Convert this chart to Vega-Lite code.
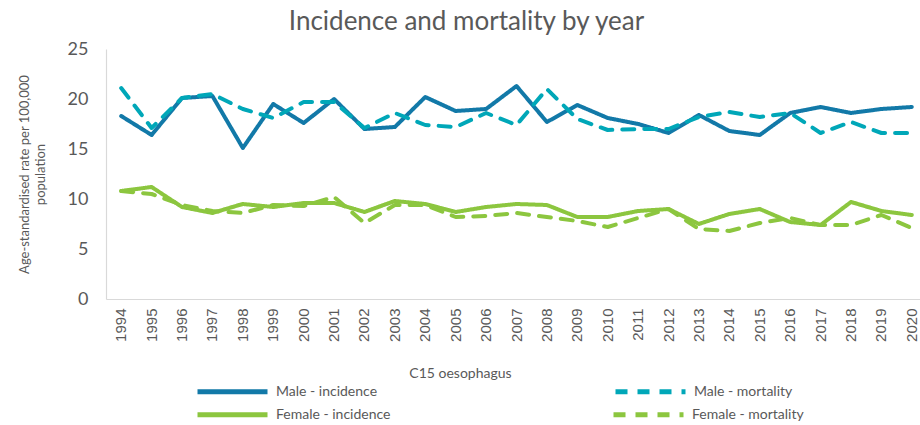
{
  "$schema": "https://vega.github.io/schema/vega-lite/v6.json",
  "autosize": {"type": "none"},
  "padding": {"left": 106, "top": 49, "right": 0, "bottom": 126},
  "width": 821,
  "height": 250,
  "background": "white",
  "config": {
    "font": "Lato",
    "view": {"stroke": null},
    "axis": {"labelColor": "#595959", "titleColor": "#595959", "titleFontWeight": "normal", "grid": false},
    "legend": {"labelColor": "#595959", "labelFontSize": 14}
  },
  "title": {
    "text": "Incidence and mortality by year",
    "fontSize": 26,
    "fontWeight": "normal",
    "color": "#595959",
    "font": "Lato",
    "anchor": "middle",
    "frame": "group",
    "dx": -50,
    "offset": 5
  },
  "data": {
    "values": [
      {"year": "1994", "series": "Male - incidence", "value": 18.3},
      {"year": "1995", "series": "Male - incidence", "value": 16.4},
      {"year": "1996", "series": "Male - incidence", "value": 20.1},
      {"year": "1997", "series": "Male - incidence", "value": 20.3},
      {"year": "1998", "series": "Male - incidence", "value": 15.1},
      {"year": "1999", "series": "Male - incidence", "value": 19.5},
      {"year": "2000", "series": "Male - incidence", "value": 17.6},
      {"year": "2001", "series": "Male - incidence", "value": 20.0},
      {"year": "2002", "series": "Male - incidence", "value": 17.0},
      {"year": "2003", "series": "Male - incidence", "value": 17.2},
      {"year": "2004", "series": "Male - incidence", "value": 20.2},
      {"year": "2005", "series": "Male - incidence", "value": 18.8},
      {"year": "2006", "series": "Male - incidence", "value": 19.0},
      {"year": "2007", "series": "Male - incidence", "value": 21.3},
      {"year": "2008", "series": "Male - incidence", "value": 17.7},
      {"year": "2009", "series": "Male - incidence", "value": 19.4},
      {"year": "2010", "series": "Male - incidence", "value": 18.1},
      {"year": "2011", "series": "Male - incidence", "value": 17.5},
      {"year": "2012", "series": "Male - incidence", "value": 16.6},
      {"year": "2013", "series": "Male - incidence", "value": 18.4},
      {"year": "2014", "series": "Male - incidence", "value": 16.8},
      {"year": "2015", "series": "Male - incidence", "value": 16.4},
      {"year": "2016", "series": "Male - incidence", "value": 18.6},
      {"year": "2017", "series": "Male - incidence", "value": 19.2},
      {"year": "2018", "series": "Male - incidence", "value": 18.6},
      {"year": "2019", "series": "Male - incidence", "value": 19.0},
      {"year": "2020", "series": "Male - incidence", "value": 19.2},
      {"year": "1994", "series": "Male - mortality", "value": 21.1},
      {"year": "1995", "series": "Male - mortality", "value": 17.1},
      {"year": "1996", "series": "Male - mortality", "value": 20.1},
      {"year": "1997", "series": "Male - mortality", "value": 20.5},
      {"year": "1998", "series": "Male - mortality", "value": 19.0},
      {"year": "1999", "series": "Male - mortality", "value": 18.1},
      {"year": "2000", "series": "Male - mortality", "value": 19.7},
      {"year": "2001", "series": "Male - mortality", "value": 19.7},
      {"year": "2002", "series": "Male - mortality", "value": 17.1},
      {"year": "2003", "series": "Male - mortality", "value": 18.6},
      {"year": "2004", "series": "Male - mortality", "value": 17.4},
      {"year": "2005", "series": "Male - mortality", "value": 17.2},
      {"year": "2006", "series": "Male - mortality", "value": 18.6},
      {"year": "2007", "series": "Male - mortality", "value": 17.4},
      {"year": "2008", "series": "Male - mortality", "value": 21.0},
      {"year": "2009", "series": "Male - mortality", "value": 18.0},
      {"year": "2010", "series": "Male - mortality", "value": 16.9},
      {"year": "2011", "series": "Male - mortality", "value": 17.0},
      {"year": "2012", "series": "Male - mortality", "value": 17.0},
      {"year": "2013", "series": "Male - mortality", "value": 18.2},
      {"year": "2014", "series": "Male - mortality", "value": 18.7},
      {"year": "2015", "series": "Male - mortality", "value": 18.2},
      {"year": "2016", "series": "Male - mortality", "value": 18.6},
      {"year": "2017", "series": "Male - mortality", "value": 16.6},
      {"year": "2018", "series": "Male - mortality", "value": 17.7},
      {"year": "2019", "series": "Male - mortality", "value": 16.6},
      {"year": "2020", "series": "Male - mortality", "value": 16.6},
      {"year": "1994", "series": "Female - incidence", "value": 10.8},
      {"year": "1995", "series": "Female - incidence", "value": 11.2},
      {"year": "1996", "series": "Female - incidence", "value": 9.2},
      {"year": "1997", "series": "Female - incidence", "value": 8.6},
      {"year": "1998", "series": "Female - incidence", "value": 9.5},
      {"year": "1999", "series": "Female - incidence", "value": 9.2},
      {"year": "2000", "series": "Female - incidence", "value": 9.6},
      {"year": "2001", "series": "Female - incidence", "value": 9.6},
      {"year": "2002", "series": "Female - incidence", "value": 8.7},
      {"year": "2003", "series": "Female - incidence", "value": 9.8},
      {"year": "2004", "series": "Female - incidence", "value": 9.5},
      {"year": "2005", "series": "Female - incidence", "value": 8.7},
      {"year": "2006", "series": "Female - incidence", "value": 9.2},
      {"year": "2007", "series": "Female - incidence", "value": 9.5},
      {"year": "2008", "series": "Female - incidence", "value": 9.4},
      {"year": "2009", "series": "Female - incidence", "value": 8.2},
      {"year": "2010", "series": "Female - incidence", "value": 8.2},
      {"year": "2011", "series": "Female - incidence", "value": 8.8},
      {"year": "2012", "series": "Female - incidence", "value": 9.0},
      {"year": "2013", "series": "Female - incidence", "value": 7.5},
      {"year": "2014", "series": "Female - incidence", "value": 8.5},
      {"year": "2015", "series": "Female - incidence", "value": 9.0},
      {"year": "2016", "series": "Female - incidence", "value": 7.7},
      {"year": "2017", "series": "Female - incidence", "value": 7.4},
      {"year": "2018", "series": "Female - incidence", "value": 9.7},
      {"year": "2019", "series": "Female - incidence", "value": 8.8},
      {"year": "2020", "series": "Female - incidence", "value": 8.4},
      {"year": "1994", "series": "Female - mortality", "value": 10.8},
      {"year": "1995", "series": "Female - mortality", "value": 10.5},
      {"year": "1996", "series": "Female - mortality", "value": 9.4},
      {"year": "1997", "series": "Female - mortality", "value": 8.8},
      {"year": "1998", "series": "Female - mortality", "value": 8.6},
      {"year": "1999", "series": "Female - mortality", "value": 9.4},
      {"year": "2000", "series": "Female - mortality", "value": 9.3},
      {"year": "2001", "series": "Female - mortality", "value": 10.2},
      {"year": "2002", "series": "Female - mortality", "value": 7.6},
      {"year": "2003", "series": "Female - mortality", "value": 9.4},
      {"year": "2004", "series": "Female - mortality", "value": 9.4},
      {"year": "2005", "series": "Female - mortality", "value": 8.2},
      {"year": "2006", "series": "Female - mortality", "value": 8.3},
      {"year": "2007", "series": "Female - mortality", "value": 8.6},
      {"year": "2008", "series": "Female - mortality", "value": 8.2},
      {"year": "2009", "series": "Female - mortality", "value": 7.8},
      {"year": "2010", "series": "Female - mortality", "value": 7.2},
      {"year": "2011", "series": "Female - mortality", "value": 8.1},
      {"year": "2012", "series": "Female - mortality", "value": 9.0},
      {"year": "2013", "series": "Female - mortality", "value": 7.0},
      {"year": "2014", "series": "Female - mortality", "value": 6.8},
      {"year": "2015", "series": "Female - mortality", "value": 7.6},
      {"year": "2016", "series": "Female - mortality", "value": 8.1},
      {"year": "2017", "series": "Female - mortality", "value": 7.4},
      {"year": "2018", "series": "Female - mortality", "value": 7.4},
      {"year": "2019", "series": "Female - mortality", "value": 8.4},
      {"year": "2020", "series": "Female - mortality", "value": 7.1}
    ]
  },
  "encoding": {
    "x": {
      "field": "year",
      "type": "ordinal",
      "scale": {"type": "band", "paddingInner": 0, "paddingOuter": 0},
      "axis": {
        "title": "C15 oesophagus",
        "titleFontSize": 14,
        "titlePadding": 25,
        "labelAngle": -90,
        "labelFontSize": 15,
        "labelFont": "Liberation Sans",
        "labelPadding": 9,
        "ticks": false,
        "domainColor": "#d9d9d9",
        "domainWidth": 1.2,
        "titleAnchor": "middle",
        "titleX": 354
      }
    },
    "y": {
      "field": "value",
      "type": "quantitative",
      "scale": {"domain": [0, 25], "nice": false},
      "axis": {
        "title": ["Age-standardised rate per 100,000", "population"],
        "titleFontSize": 13,
        "titlePadding": 20,
        "titleLineHeight": 16,
        "values": [0, 5, 10, 15, 20, 25],
        "labelFontSize": 18,
        "labelPadding": 18,
        "ticks": false,
        "domainColor": "#d9d9d9",
        "domainWidth": 1.2
      }
    }
  },
  "layer": [
    {
      "transform": [{"filter": "indexof(datum.series, 'Male') === 0"}],
      "mark": {"type": "line", "strokeWidth": 4, "strokeCap": "round", "strokeJoin": "round"},
      "encoding": {
        "color": {
          "field": "series",
          "type": "nominal",
          "scale": {"domain": ["Male - incidence", "Male - mortality"], "range": ["#1279a8", "#00a7b8"]},
          "legend": {
            "title": null,
            "orient": "none",
            "legendX": 89,
            "legendY": 305,
            "columns": 2,
            "direction": "horizontal",
            "columnPadding": 227,
            "symbolType": "stroke",
            "symbolSize": 4900,
            "symbolStrokeWidth": 5,
            "labelLimit": 200,
            "labelOffset": 6
          }
        },
        "strokeDash": {
          "field": "series",
          "type": "nominal",
          "scale": {"domain": ["Male - incidence", "Male - mortality"], "range": [[1, 0], [12, 10]]},
          "legend": null
        }
      }
    },
    {
      "transform": [{"filter": "indexof(datum.series, 'Female') === 0"}],
      "mark": {"type": "line", "strokeWidth": 4, "strokeCap": "round", "strokeJoin": "round"},
      "encoding": {
        "color": {
          "field": "series",
          "type": "nominal",
          "scale": {"domain": ["Female - incidence", "Female - mortality"], "range": ["#8cc63f", "#8cc63f"]},
          "legend": {
            "title": null,
            "orient": "none",
            "legendX": 89,
            "legendY": 328,
            "columns": 2,
            "direction": "horizontal",
            "columnPadding": 212,
            "symbolType": "stroke",
            "symbolSize": 4900,
            "symbolStrokeWidth": 5,
            "labelLimit": 200,
            "labelOffset": 6
          }
        },
        "strokeDash": {
          "field": "series",
          "type": "nominal",
          "scale": {"domain": ["Female - incidence", "Female - mortality"], "range": [[1, 0], [12, 10]]},
          "legend": null
        }
      }
    }
  ],
  "resolve": {
    "scale": {"color": "independent", "strokeDash": "independent"},
    "legend": {"color": "independent", "strokeDash": "independent"}
  }
}
